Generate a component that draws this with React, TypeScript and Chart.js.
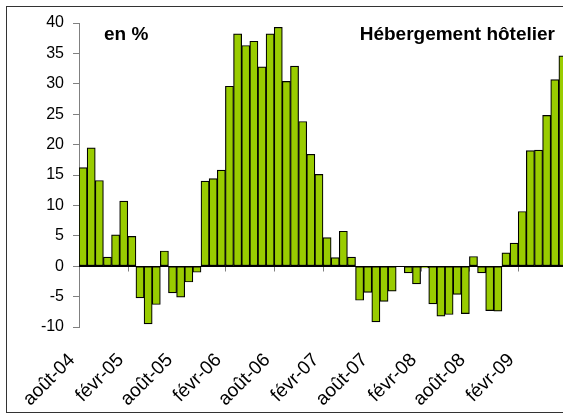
import React, { useEffect, useRef } from "react";
import { Chart, registerables } from "chart.js";

Chart.register(...registerables);

const monthNames = ["janv", "févr", "mars", "avr", "mai", "juin", "juil", "août", "sept", "oct", "nov", "déc"];
// août-04 .. juil-09 (60 months)
const categories: string[] = [];
for (let i = 0; i < 60; i++) {
  const m = (7 + i) % 12;
  const y = 4 + Math.floor((7 + i) / 12);
  categories.push(`${monthNames[m]}-${String(y).padStart(2, "0")}`);
}

const values = [
  16.2, 19.45, 14.1, 1.5, 5.15, 10.7, 4.9, -5.2, -9.5, -6.3,
  2.5, -4.4, -5.1, -2.6, -1.0, 14.0, 14.4, 15.8, 29.6, 38.2,
  36.3, 37.0, 32.8, 38.2, 39.3, 30.4, 32.9, 23.8, 18.4, 15.1,
  4.7, 1.4, 5.75, 1.5, -5.6, -4.3, -9.15, -5.8, -4.1, 0,
  -1.1, -2.9, -0.3, -6.2, -8.2, -7.95, -4.65, -7.8, 1.6, -1.1,
  -7.3, -7.4, 2.2, 3.8, 9.0, 19.0, 19.1, 24.8, 30.7, 34.6,
];

const yTicks = [-10, -5, 0, 5, 10, 15, 20, 25, 30, 35, 40];
const unitLabel = "en %";
const titleLabel = "Hébergement hôtelier";

const FONT = "'Liberation Sans', Arial, Helvetica, sans-serif";

const decor = {
  id: "decor",
  beforeDatasetsDraw(chart: any) {
    const { ctx, chartArea, scales } = chart;
    const y0 = Math.round(scales.y.getPixelForValue(0)) + 0.5;
    const step = scales.x.getPixelForValue(1) - scales.x.getPixelForValue(0);
    ctx.save();
    ctx.strokeStyle = "#808080";
    ctx.lineWidth = 1;
    for (let i = 0; i <= categories.length; i += 6) {
      const x = Math.round(scales.x.getPixelForValue(i) - step / 2) + 0.5;
      ctx.beginPath();
      ctx.moveTo(x, y0);
      ctx.lineTo(x, y0 + 5);
      ctx.stroke();
    }
    ctx.strokeStyle = "#000";
    ctx.beginPath();
    ctx.moveTo(chartArea.left, y0);
    ctx.lineTo(chartArea.right, y0);
    ctx.stroke();
    ctx.restore();
  },
  afterDraw(chart: any) {
    const { ctx } = chart;
    ctx.save();
    ctx.strokeStyle = "#333";
    ctx.lineWidth = 1;
    ctx.strokeRect(6.5, 6.5, 700, 406);
    ctx.fillStyle = "#000";
    ctx.font = `bold 19px ${FONT}`;
    ctx.textBaseline = "alphabetic";
    ctx.textAlign = "left";
    ctx.fillText(unitLabel, 104, 40);
    ctx.textAlign = "right";
    ctx.fillText(titleLabel, 555, 40);
    ctx.restore();
  },
};

export default function App() {
  const ref = useRef<HTMLCanvasElement | null>(null);
  useEffect(() => {
    if (!ref.current) return;
    const chart = new Chart(ref.current, {
      type: "bar",
      data: {
        labels: categories,
        datasets: [
          {
            data: values,
            backgroundColor: "#99cc00",
            borderColor: "#000",
            borderWidth: 1.2,
            borderSkipped: false,
            barPercentage: 1,
            categoryPercentage: 1,
          },
        ],
      },
      options: {
        responsive: false,
        animation: false,
        layout: { padding: { left: 0, right: 0, top: 23, bottom: 0 } },
        plugins: { legend: { display: false }, tooltip: { enabled: false } },
        scales: {
          x: {
            grid: { display: false },
            border: { display: false },
            afterFit: (axis: any) => {
              axis.height = 87;
              axis.paddingLeft = 0;
              axis.paddingRight = 0;
            },
            ticks: {
              autoSkip: false,
              maxRotation: 45,
              minRotation: 45,
              padding: 14,
              labelOffset: -11,
              color: "#000",
              font: { family: FONT, size: 19 },
              callback: (_v: any, i: number) => (i % 6 === 0 ? categories[i] : ""),
            },
          },
          y: {
            min: -10,
            max: 40,
            afterFit: (axis: any) => {
              axis.width = 79;
            },
            afterBuildTicks: (axis: any) => {
              axis.ticks = yTicks.map((v) => ({ value: v }));
            },
            grid: { drawOnChartArea: false, tickLength: 6, color: "#808080" },
            border: { color: "#808080" },
            ticks: {
              padding: 9,
              color: "#000",
              font: { family: FONT, size: 16 },
            },
          },
        },
      },
      plugins: [decor],
    });
    return () => chart.destroy();
  }, []);
  return (
    <div style={{ position: "absolute", left: 0, top: 0, width: 563, height: 414, overflow: "hidden", background: "#fff" }}>
      <canvas ref={ref} width={567} height={414} style={{ display: "block" }} />
    </div>
  );
}
